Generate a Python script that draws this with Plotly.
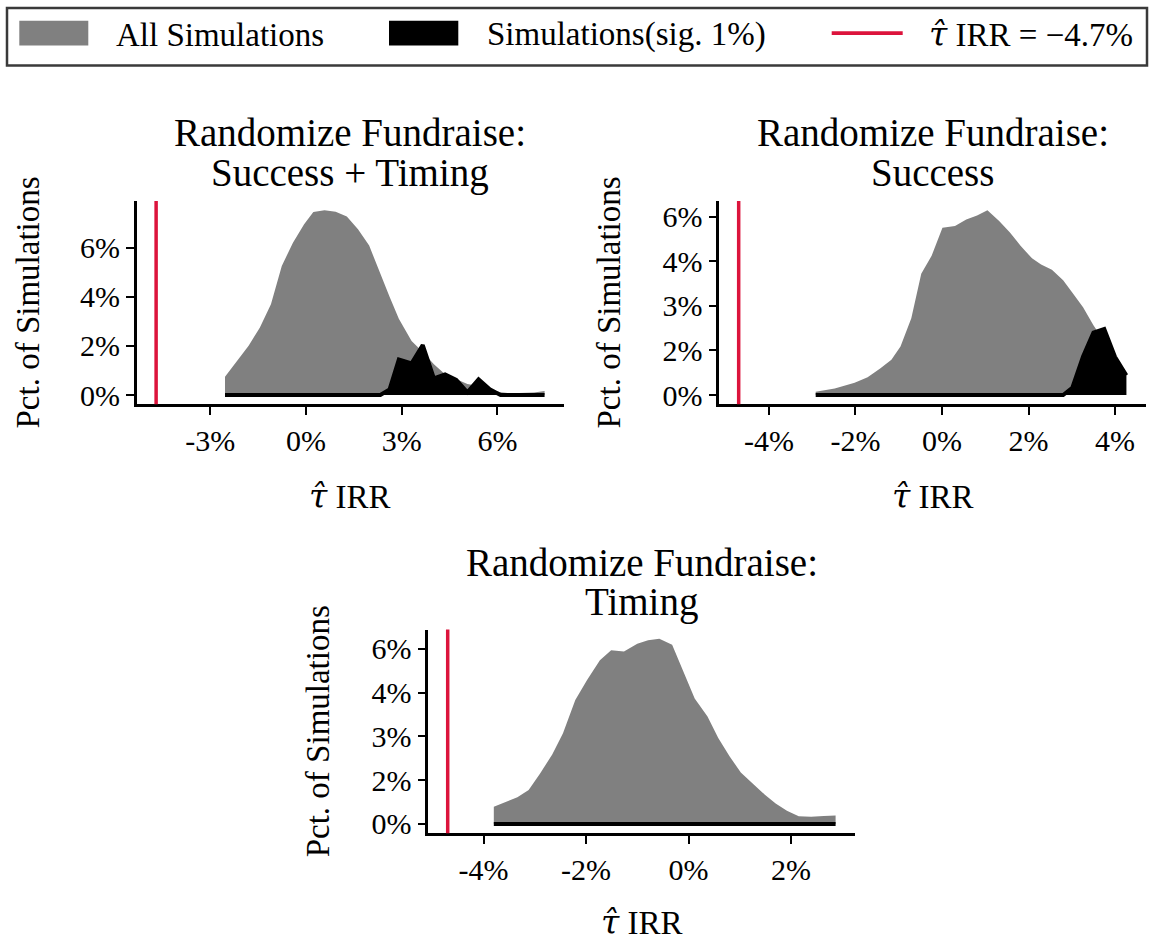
import plotly.graph_objects as go

W, H = 1151, 943
FONT = "Liberation Serif"

# ---------------- data ----------------
IRR_HAT = -4.7  # observed tau-hat IRR (%)

# Panel 1: Randomize Fundraise: Success + Timing
x_st = [-2.54, -2.17, -1.80, -1.45, -1.10, -0.76, -0.41, -0.06, 0.23, 0.58,
        0.93, 1.28, 1.63, 1.98, 2.33, 2.62, 2.91, 3.31, 3.66, 4.01,
        4.36, 4.71, 5.06, 5.41, 5.76, 6.10, 6.45, 6.80, 7.15, 7.48]
all_st = [0.74, 1.38, 2.00, 2.74, 3.69, 5.25, 6.20, 6.95, 7.45, 7.52,
          7.46, 7.26, 6.75, 6.08, 4.90, 4.00, 3.10, 2.20, 1.75, 1.25,
          0.84, 0.66, 0.45, 0.37, 0.23, 0.11, 0.07, 0.07, 0.10, 0.16]
sig_st = [0.0, 0.0, 0.0, 0.0, 0.0, 0.0, 0.0, 0.0, 0.0, 0.0,
          0.0, 0.0, 0.0, 0.0, 0.0, 0.23, 1.45, 1.29, 2.03, 0.68,
          0.84, 0.62, 0.11, 0.64, 0.23, 0.0, 0.0, 0.0, 0.0, 0.0]

# Panel 2: Randomize Fundraise: Success
x_s = [-2.92, -2.48, -2.02, -1.72, -1.43, -1.17, -0.96, -0.71, -0.48, -0.24,
       0.01, 0.30, 0.56, 0.81, 1.05, 1.32, 1.57, 1.82, 2.08, 2.29,
       2.54, 2.80, 3.01, 3.26, 3.50, 3.75, 4.00, 4.26]
all_s = [0.11, 0.22, 0.41, 0.60, 0.89, 1.19, 1.63, 2.58, 4.08, 4.69,
         5.63, 5.69, 5.91, 6.04, 6.22, 5.86, 5.47, 5.02, 4.60, 4.39,
         4.22, 3.86, 3.45, 2.95, 2.35, 1.80, 1.24, 0.69]
sig_s = [0.0, 0.0, 0.0, 0.0, 0.0, 0.0, 0.0, 0.0, 0.0, 0.0,
         0.0, 0.0, 0.0, 0.0, 0.0, 0.0, 0.0, 0.0, 0.0, 0.0,
         0.0, 0.0, 0.24, 1.30, 2.10, 2.22, 1.28, 0.66]

# Panel 3: Randomize Fundraise: Timing
x_t = [-3.80, -3.57, -3.34, -3.12, -2.90, -2.66, -2.45, -2.21, -1.98, -1.73,
       -1.51, -1.26, -1.00, -0.79, -0.57, -0.32, -0.10, 0.12, 0.37, 0.58,
       0.80, 1.02, 1.23, 1.49, 1.70, 1.92, 2.15, 2.39, 2.64, 2.87]
all_t = [0.59, 0.74, 0.91, 1.16, 1.72, 2.38, 3.11, 4.25, 4.93, 5.61,
         5.95, 5.91, 6.17, 6.29, 6.34, 6.14, 5.21, 4.30, 3.68, 2.94,
         2.32, 1.76, 1.42, 1.00, 0.70, 0.45, 0.26, 0.25, 0.27, 0.29]
sig_t = [0.0, 0.0, 0.0, 0.0, 0.0, 0.0, 0.0, 0.0, 0.0, 0.0,
         0.0, 0.0, 0.0, 0.0, 0.0, 0.0, 0.0, 0.0, 0.0, 0.0,
         0.0, 0.0, 0.0, 0.0, 0.0, 0.0, 0.0, 0.0, 0.0, 0.0]

titles = [["Randomize Fundraise:", "Success + Timing"],
          ["Randomize Fundraise:", "Success"],
          ["Randomize Fundraise:", "Timing"]]

xtick_vals = [[-3, 0, 3, 6], [-4, -2, 0, 2, 4], [-4, -2, 0, 2]]
xtick_text = [["-3%", "0%", "3%", "6%"], ["-4%", "-2%", "0%", "2%", "4%"], ["-4%", "-2%", "0%", "2%"]]
ytick_vals = [[0, 2, 4, 6], [0, 1.5, 3, 4.5, 6], [0, 1.5, 3, 4.5, 6]]
ytick_text = [["0%", "2%", "4%", "6%"], ["0%", "2%", "3%", "4%", "6%"], ["0%", "2%", "3%", "4%", "6%"]]

TAU_HAT = '<span style="font-family:DejaVu Serif;font-style:italic">τ̂</span>'
legend_labels = ["All Simulations", "Simulations(sig. 1%)", TAU_HAT + " IRR = −4.7%"]
x_label = TAU_HAT + " IRR"
y_label = "Pct. of Simulations"

GRAY = "#808080"
BLACK = "#000000"
RED = "#DC143C"

# ---------------- layout geometry (pixels) ----------------
panels = [
    dict(x=x_st, a=all_st, s=sig_st, dom=(136.7, 564.0, 201.7, 406.7),
         title_mid=(133.0, 173.0), xt_mid=500.0, yt_x=27.9),
    dict(x=x_s, a=all_s, s=sig_s, dom=(719.3, 1145.7, 201.7, 406.7),
         title_mid=(133.0, 173.0), xt_mid=500.0, yt_x=608.9),
    dict(x=x_t, a=all_t, s=sig_t, dom=(428.3, 855.0, 634.0, 839.3),
         title_mid=(566.0, 606.0), xt_mid=929.5, yt_x=318.9),
]


def px(p):
    return p / W


def py(p):
    return 1 - p / H


fig = go.Figure()
annotations = []
shapes = []

for i, p in enumerate(panels):
    n = "" if i == 0 else str(i + 1)
    xa, ya = "x" + n, "y" + n
    fig.add_trace(go.Scatter(x=p["x"], y=p["a"], mode="lines", fill="tozeroy",
                             fillcolor=GRAY, line=dict(width=0, color=GRAY),
                             xaxis=xa, yaxis=ya, showlegend=False, hoverinfo="skip"))
    fig.add_trace(go.Scatter(x=p["x"], y=p["s"], mode="lines", fill="tozeroy",
                             fillcolor=BLACK, line=dict(width=4, color=BLACK),
                             xaxis=xa, yaxis=ya, showlegend=False, hoverinfo="skip"))
    lo = min(IRR_HAT, min(p["x"]))
    hi = max(p["x"])
    pad = 0.05 * (hi - lo)
    m = max(max(p["a"]), max(p["s"]))
    x0, x1, y0, y1 = p["dom"]
    axis_common = dict(showline=True, linecolor="black", linewidth=2.5,
                       ticks="outside", ticklen=8, tickwidth=2, tickcolor="black",
                       showgrid=False, zeroline=False,
                       tickfont=dict(family=FONT, size=30, color="black"))
    fig.update_layout(**{
        "xaxis" + n: dict(domain=[px(x0), px(x1)], range=[lo - pad, hi + pad],
                          anchor=ya, tickvals=xtick_vals[i], ticktext=xtick_text[i],
                          **axis_common),
        "yaxis" + n: dict(domain=[py(y1), py(y0)], range=[-0.05 * m, 1.05 * m],
                          anchor=xa, tickvals=ytick_vals[i], ticktext=ytick_text[i],
                          **axis_common),
    })
    shapes.append(dict(type="line", xref=xa, yref=ya + " domain", x0=IRR_HAT, x1=IRR_HAT,
                       y0=0, y1=1, line=dict(color=RED, width=3.5), layer="above"))
    cx = (x0 + x1) / 2
    for line_txt, mid in zip(titles[i], p["title_mid"]):
        annotations.append(dict(text=line_txt, xref="paper", yref="paper", x=px(cx), y=py(mid),
                                xanchor="center", yanchor="middle", showarrow=False,
                                font=dict(family=FONT, size=39, color="black")))
    annotations.append(dict(text=x_label, xref="paper", yref="paper", x=px(cx), y=py(p["xt_mid"]),
                            xanchor="center", yanchor="middle", showarrow=False,
                            font=dict(family=FONT, size=33, color="black")))
    annotations.append(dict(text=y_label, xref="paper", yref="paper", x=px(p["yt_x"]),
                            y=py((y0 + y1) / 2), textangle=-90,
                            xanchor="center", yanchor="middle", showarrow=False,
                            font=dict(family=FONT, size=33, color="black")))

# ---------------- manual legend ----------------
shapes.append(dict(type="rect", xref="paper", yref="paper", x0=px(7), x1=px(1147),
                   y0=py(65), y1=py(7), line=dict(color="#3a3a3a", width=2.5),
                   fillcolor="white", layer="above"))
shapes.append(dict(type="rect", xref="paper", yref="paper", x0=px(19.3), x1=px(88.3),
                   y0=py(45), y1=py(20), line=dict(width=0), fillcolor=GRAY, layer="above"))
shapes.append(dict(type="rect", xref="paper", yref="paper", x0=px(389), x1=px(458.3),
                   y0=py(45), y1=py(20), line=dict(width=0), fillcolor=BLACK, layer="above"))
shapes.append(dict(type="line", xref="paper", yref="paper", x0=px(831.7), x1=px(902.7),
                   y0=py(32.5), y1=py(32.5), line=dict(color=RED, width=3.7), layer="above"))
for lbl, lx in zip(legend_labels, [114, 485, 926.7]):
    annotations.append(dict(text=lbl, xref="paper", yref="paper", x=px(lx), y=py(33.9),
                            xanchor="left", yanchor="middle", showarrow=False,
                            font=dict(family=FONT, size=33, color="black")))

fig.update_layout(width=W, height=H, margin=dict(l=0, r=0, t=0, b=0),
                  paper_bgcolor="white", plot_bgcolor="white",
                  showlegend=False, shapes=shapes, annotations=annotations,
                  font=dict(family=FONT, color="black"))

fig.write_html("out.html")
